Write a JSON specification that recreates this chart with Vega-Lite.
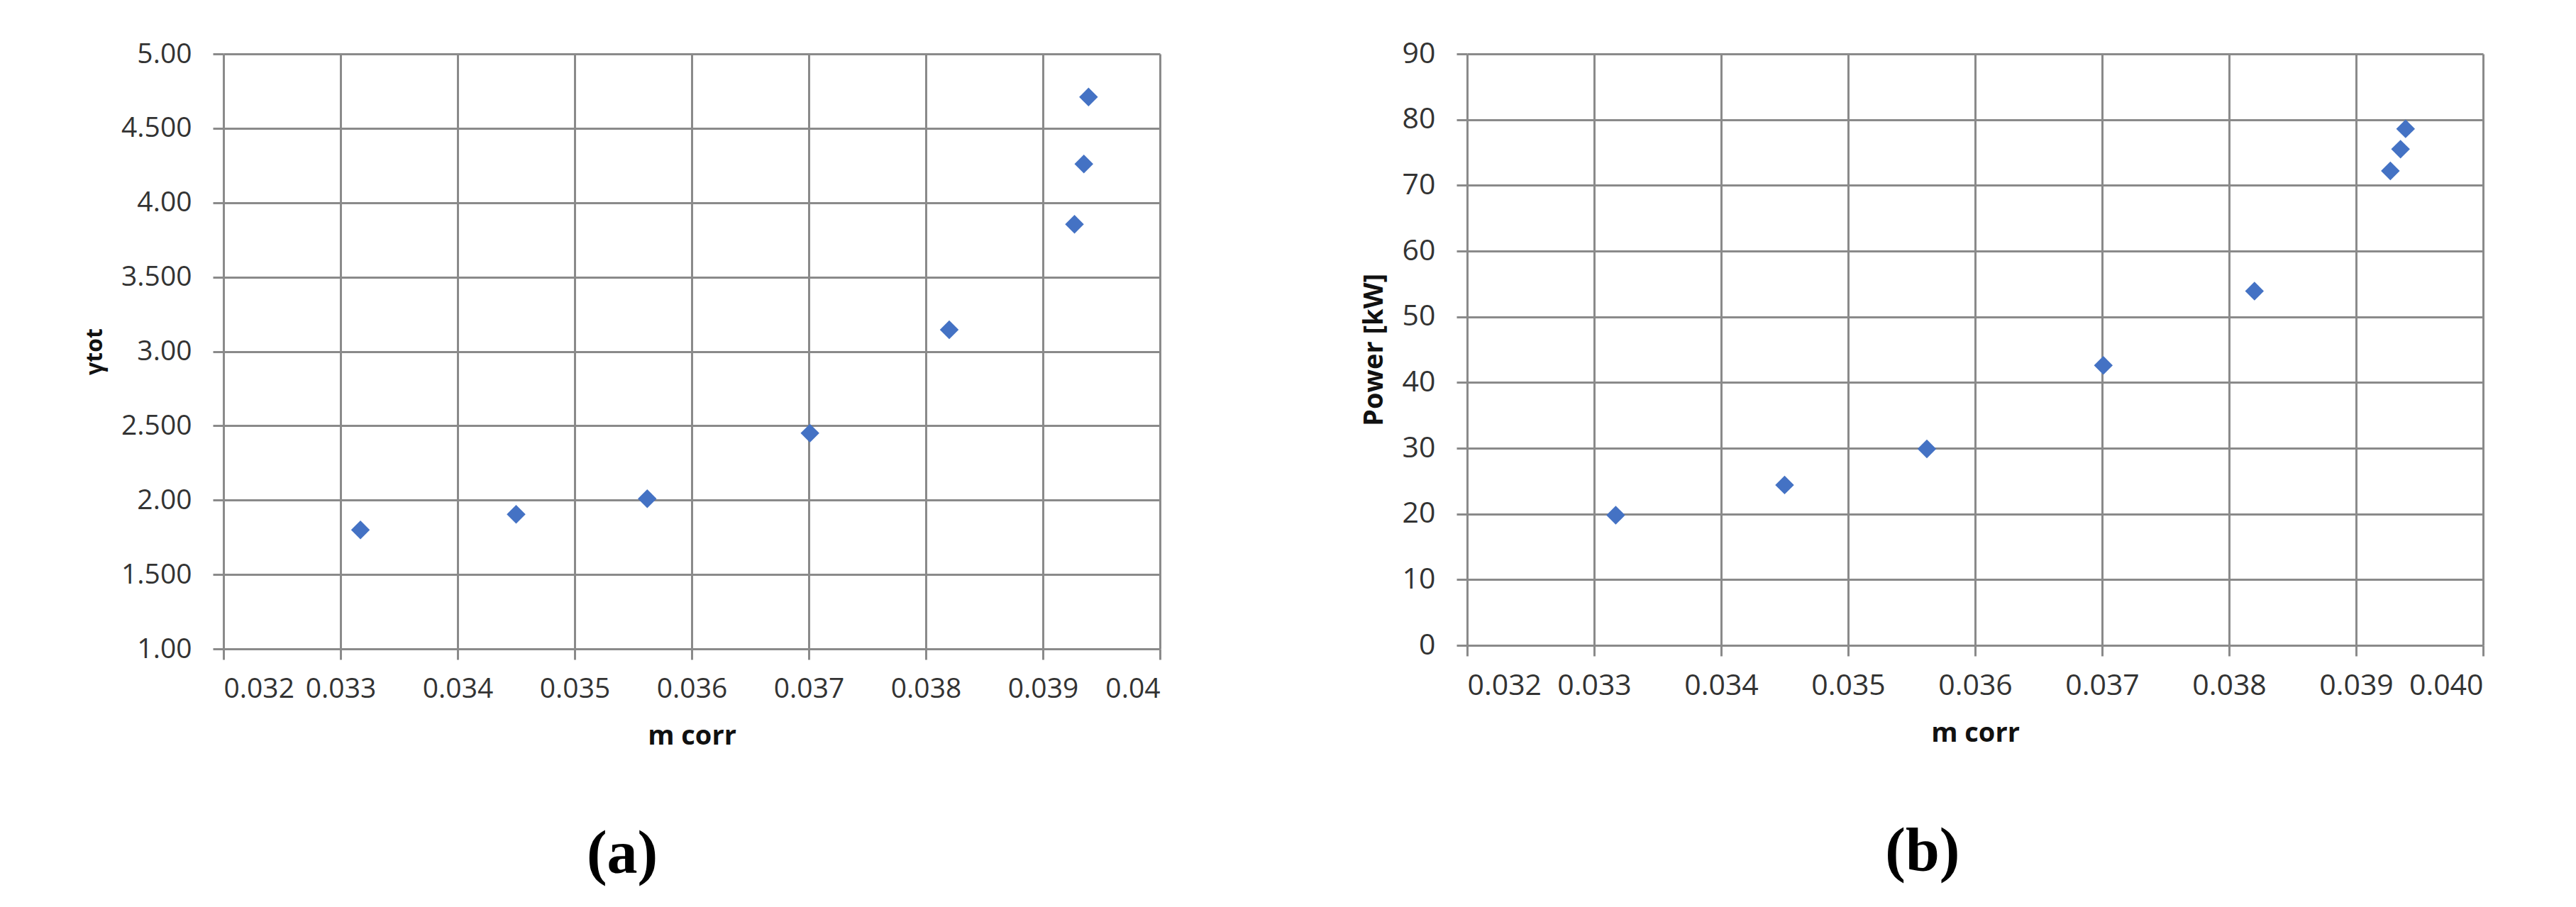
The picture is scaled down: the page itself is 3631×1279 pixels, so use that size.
{
  "$schema": "https://vega.github.io/schema/vega-lite/v6.json",
  "background": "white",
  "padding": {"left": 117, "top": 55, "right": 30, "bottom": 20},
  "data": {"values": [
    {"m_corr": 0.03317, "gamma_tot": 1.80, "power": 19.8},
    {"m_corr": 0.03450, "gamma_tot": 1.905, "power": 24.4},
    {"m_corr": 0.03562, "gamma_tot": 2.01, "power": 29.9},
    {"m_corr": 0.03701, "gamma_tot": 2.45, "power": 42.6},
    {"m_corr": 0.03820, "gamma_tot": 3.145, "power": 53.9},
    {"m_corr": 0.03927, "gamma_tot": 3.855, "power": 72.2},
    {"m_corr": 0.03935, "gamma_tot": 4.26, "power": 75.5},
    {"m_corr": 0.03939, "gamma_tot": 4.71, "power": 78.6}
  ]},
  "config": {
    "font": "Open Sans",
    "view": {"stroke": null},
    "axis": {
      "domainColor": "#8a8a8a", "domainWidth": 3,
      "tickColor": "#8a8a8a", "tickWidth": 3, "tickSize": 15,
      "gridColor": "#8a8a8a", "gridWidth": 3, "grid": true,
      "labelColor": "#333333", "labelFont": "Open Sans",
      "titleColor": "#111111", "titleFont": "Open Sans", "titleFontWeight": "bold"
    },
    "axisX": {"labelPadding": 22, "titlePadding": 28},
    "axisY": {"labelPadding": 30, "titlePadding": 20}
  },
  "spacing": 281,
  "hconcat": [
    {
      "width": 1320,
      "height": 839,
      "title": {"text": "(a)", "orient": "bottom", "anchor": "middle", "frame": "bounds", "font": "Liberation Serif", "fontSize": 86, "fontWeight": "bold", "color": "#000000", "offset": 106},
      "mark": {"type": "point", "shape": "diamond", "filled": true, "size": 700, "color": "#4472C4", "opacity": 1},
      "encoding": {
        "x": {
          "field": "m_corr", "type": "quantitative",
          "scale": {"domain": [0.032, 0.04], "nice": false, "zero": false},
          "axis": {"title": "m corr", "titleFontSize": 38, "labelFontSize": 39,
                   "values": [0.032, 0.033, 0.034, 0.035, 0.036, 0.037, 0.038, 0.039, 0.04],
                   "labelExpr": "datum.value >= 0.0399 ? '0.04' : format(datum.value, '.3f')"}
        },
        "y": {
          "field": "gamma_tot", "type": "quantitative",
          "scale": {"domain": [1, 5], "nice": false, "zero": false},
          "axis": {"title": "γtot", "titleFontSize": 32, "labelFontSize": 39,
                   "values": [1, 1.5, 2, 2.5, 3, 3.5, 4, 4.5, 5],
                   "labelExpr": "abs(datum.value - round(datum.value)) < 0.01 ? format(datum.value, '.2f') : format(datum.value, '.3f')"}
        }
      }
    },
    {
      "width": 1432,
      "height": 834,
      "title": {"text": "(b)", "orient": "bottom", "anchor": "middle", "frame": "bounds", "font": "Liberation Serif", "fontSize": 86, "fontWeight": "bold", "color": "#000000", "offset": 106},
      "mark": {"type": "point", "shape": "diamond", "filled": true, "size": 700, "color": "#4472C4", "opacity": 1},
      "encoding": {
        "x": {
          "field": "m_corr", "type": "quantitative",
          "scale": {"domain": [0.032, 0.04], "nice": false, "zero": false},
          "axis": {"title": "m corr", "titleFontSize": 38, "labelFontSize": 41,
                   "values": [0.032, 0.033, 0.034, 0.035, 0.036, 0.037, 0.038, 0.039, 0.04],
                   "labelExpr": "format(datum.value, '.3f')"}
        },
        "y": {
          "field": "power", "type": "quantitative",
          "scale": {"domain": [0, 90], "nice": false, "zero": false},
          "axis": {"title": "Power [kW]", "titleFontSize": 38, "labelFontSize": 41,
                   "values": [0, 10, 20, 30, 40, 50, 60, 70, 80, 90],
                   "labelExpr": "format(datum.value, 'd')"}
        }
      }
    }
  ]
}
